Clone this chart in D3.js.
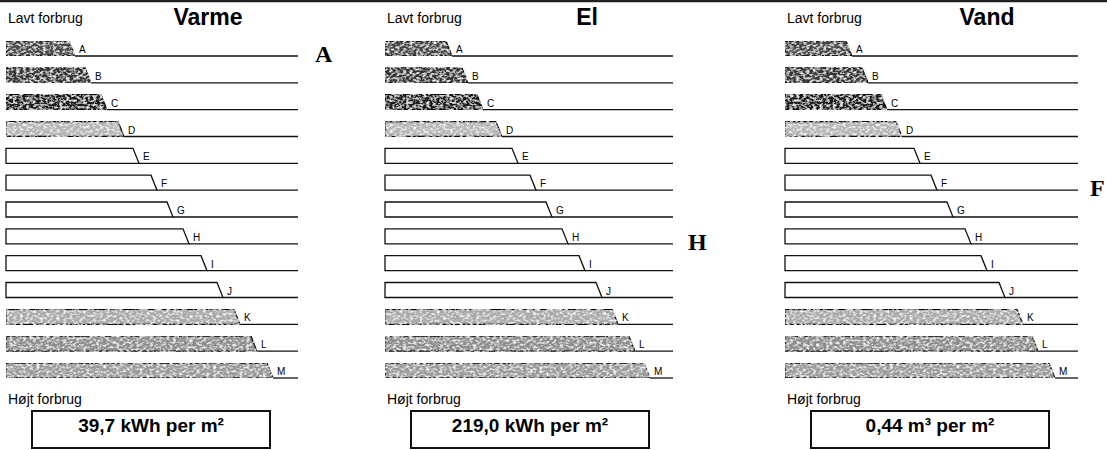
<!DOCTYPE html>
<html><head><meta charset="utf-8">
<script src="https://cdn.jsdelivr.net/npm/d3@7"></script>
<style>html,body{margin:0;padding:0;background:#fff;}svg{display:block;}</style>
</head><body>
<svg id="c" width="1107" height="450"></svg>
<script>
// ---- data ----
const panels = ["Varme", "El", "Vand"];
const classes = ["A","B","C","D","E","F","G","H","I","J","K","L","M"];
const lengthsVarme = [69, 85, 101, 118, 133, 151, 167, 183, 201, 217, 234, 251, 267];
const lengthsEl    = [67, 83, 98, 117, 133, 151, 167, 183, 200, 217, 233, 250, 265];
const lengthsVand  = [67, 83, 102, 117, 135, 152, 168, 186, 202, 220, 238, 253, 270];
const ratings = ["A", "H", "F"];
const consumption = ["39,7 kWh per m²", "219,0 kWh per m²", "0,44 m³ per m²"];
const lowLabel = "Lavt forbrug";
const highLabel = "Højt forbrug";
const classFill = ["#444","#363636","#1c1c1c","#b4b4b4","#fff","#fff","#fff","#fff","#fff","#fff","#a8a8a8","#8c8c8c","#999"];

const lengths = [lengthsVarme, lengthsEl, lengthsVand];
const svg = d3.select("#c");
const FONT = "Arial, Liberation Sans, sans-serif";

// speckled scan texture filter
const defs = svg.append("defs");
const f = defs.append("filter").attr("id","speck").attr("x",0).attr("y",0).attr("width",1).attr("height",1);
f.append("feTurbulence").attr("type","fractalNoise").attr("baseFrequency","0.3 0.45").attr("numOctaves",2).attr("seed",5).attr("result","n");
f.append("feColorMatrix").attr("in","n").attr("type","matrix")
 .attr("values","0 0 0 0 1  0 0 0 0 1  0 0 0 0 1  0 0 0 -2.6 1.45").attr("result","m");
f.append("feComposite").attr("in","m").attr("in2","SourceGraphic").attr("operator","in").attr("result","w");
f.append("feMerge").call(s=>{s.append("feMergeNode").attr("in","SourceGraphic");s.append("feMergeNode").attr("in","w");});

// top scan border
svg.append("line").attr("x1",0).attr("x2",1107).attr("y1",1).attr("y2",1).attr("stroke","#222").attr("stroke-width",2.5);

const panelX = [6, 385, 785];
const lineLen = [292, 288, 293];
const ratingDx = [17, 15, 12];
const y = d3.scalePoint().domain(classes).range([56, 378]);
const barH = 15, slant = 6;

panels.forEach((p, pi) => {
  const x0 = panelX[pi];
  const x = d3.scaleLinear().domain([0, lineLen[pi]]).range([x0, x0 + lineLen[pi]]);
  const g = svg.append("g");

  g.append("text").attr("x", x0 + 2).attr("y", 23).attr("font-family",FONT).attr("fill","#000")
    .attr("font-size", 14).text(lowLabel);
  g.append("text").attr("x", x0 + 202).attr("y", 25).attr("text-anchor","middle").attr("fill","#000")
    .attr("font-family",FONT).attr("font-weight","bold").attr("font-size", 23).text(p);

  const rows = g.selectAll("g.row").data(classes.map((c, i) => ({c, i, v: lengths[pi][i]}))).join("g");
  rows.append("line")
    .attr("x1", d => x(d.v)).attr("x2", x(lineLen[pi]))
    .attr("y1", d => y(d.c)).attr("y2", d => y(d.c))
    .attr("stroke","#111").attr("stroke-width",1.3);
  rows.append("path")
    .attr("d", d => {
      const yb = y(d.c), xe = x(d.v);
      return `M${x(0)},${yb - barH}L${xe - slant},${yb - barH}L${xe},${yb}L${x(0)},${yb}Z`;
    })
    .attr("fill", d => classFill[d.i])
    .attr("filter", d => classFill[d.i] === "#fff" ? null : "url(#speck)")
    .attr("stroke","#111").attr("stroke-width",1.3);
  rows.append("text")
    .attr("x", d => x(d.v) + 4).attr("y", d => y(d.c) - 3)
    .attr("font-family",FONT).attr("font-size", 10).attr("fill","#000")
    .text(d => d.c);

  g.append("text").attr("x", x(lineLen[pi]) + ratingDx[pi]).attr("y", y(ratings[pi]) + 6)
    .attr("font-family","Liberation Serif, Times New Roman, serif").attr("font-weight","bold").attr("fill","#000")
    .attr("font-size", 24).text(ratings[pi]);

  g.append("text").attr("x", x0 + 2).attr("y", 404).attr("font-family",FONT).attr("fill","#000")
    .attr("font-size", 14).text(highLabel);

  g.append("rect").attr("x", x0 + 26).attr("y", 411).attr("width", 238).attr("height", 37)
    .attr("fill","#fff").attr("stroke","#111").attr("stroke-width",2);
  g.append("text").attr("x", x0 + 26 + 119).attr("y", 432).attr("text-anchor","middle").attr("fill","#000")
    .attr("font-family",FONT).attr("font-weight","bold")
    .attr("font-size", 19).text(consumption[pi]);
});
</script>
</body></html>
